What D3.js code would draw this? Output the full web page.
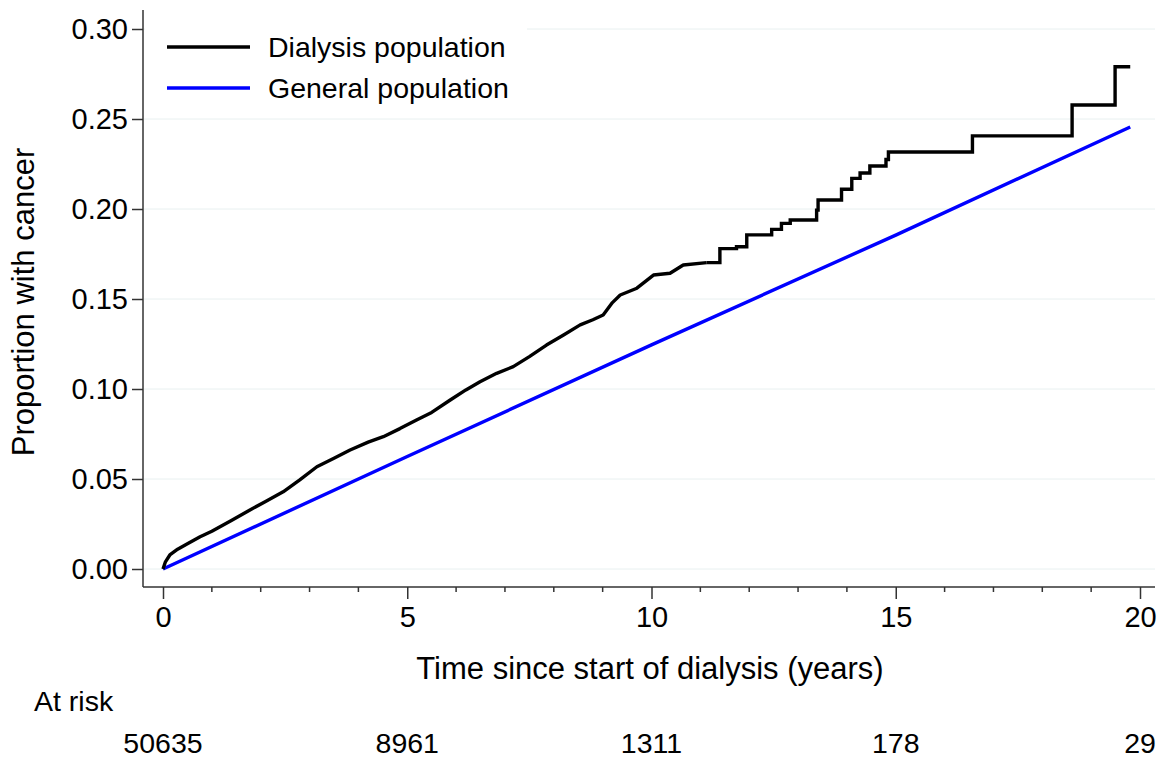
<!DOCTYPE html>
<head>
    <style>
        body { margin: 0; background: #fff; }
        text { font-family: "Liberation Sans", Arial, sans-serif; fill: #000; }
    </style>
</head>
<body>
    <script src="https://d3js.org/d3.v7.min.js"></script>
    <script>
        const width = 1162;
        const height = 772;

        // dialysis population, smooth-looking early part (years, proportion)
        const dialysisEarly = [
            [0, 0], [0.05, 0.004], [0.14, 0.0078], [0.3, 0.0110], [0.5, 0.0140], [0.76, 0.0179],
            [1.0, 0.0210], [1.4, 0.0270], [1.78, 0.0328], [2.1, 0.0375], [2.46, 0.0429], [2.8, 0.0495],
            [3.15, 0.0568], [3.5, 0.0615], [3.83, 0.0661], [4.2, 0.0705], [4.51, 0.0735], [4.85, 0.0780],
            [5.19, 0.0828], [5.5, 0.0870], [5.88, 0.0939], [6.2, 0.0995], [6.49, 0.1040], [6.83, 0.1087],
            [7.17, 0.1124], [7.5, 0.1180], [7.85, 0.1244], [8.2, 0.1300], [8.54, 0.1356], [8.8, 0.1385],
            [9.01, 0.1411], [9.2, 0.1480], [9.36, 0.1522], [9.7, 0.1560], [10.04, 0.1633], [10.38, 0.1643],
            [10.65, 0.1689], [11.13, 0.1702]
        ];
        // later part, drawn as steps
        const dialysisSteps = [
            [11.13, 0.1702], [11.40, 0.1780], [11.74, 0.1790], [11.95, 0.1856], [12.46, 0.1887],
            [12.66, 0.1920], [12.84, 0.1939], [13.38, 0.1994], [13.41, 0.2050], [13.89, 0.2110],
            [14.10, 0.2170], [14.27, 0.2200], [14.47, 0.2239], [14.80, 0.2275], [14.85, 0.2317],
            [16.57, 0.2406], [18.61, 0.2578], [19.49, 0.2790], [19.80, 0.2790]
        ];
        const general = [[0, 0], [5, 0.0625], [10, 0.1245], [15, 0.1855], [19.8, 0.2456]];

        const yTicks = [0, 0.05, 0.10, 0.15, 0.20, 0.25, 0.30];
        const xTicks = [0, 5, 10, 15, 20];
        const xMinor = d3.range(0, 21, 1);
        const atRisk = [50635, 8961, 1311, 178, 29];
        const legendLabels = ["Dialysis population", "General population"];
        const colors = ["#000000", "#0000ff"];

        const svg = d3.select("body").append("svg").attr("width", width).attr("height", height);

        const x = d3.scaleLinear().domain([0, 20]).range([163, 1140]);
        const y = d3.scaleLinear().domain([0, 0.30]).range([569, 29]);

        const axisX = 143, axisY = 587, plotRight = 1155, plotTop = 10;

        // gridlines
        svg.append("g").selectAll("line").data(yTicks).enter().append("line")
            .attr("x1", axisX + 1).attr("x2", plotRight)
            .attr("y1", d => y(d)).attr("y2", d => y(d))
            .attr("stroke", "#e8f0f0").attr("stroke-width", 1);

        const line = d3.line().x(d => x(d[0])).y(d => y(d[1]));
        const stepLine = d3.line().x(d => x(d[0])).y(d => y(d[1])).curve(d3.curveStepAfter);

        svg.append("path").datum(general).attr("d", line)
            .attr("fill", "none").attr("stroke", colors[1]).attr("stroke-width", 3.4);
        svg.append("path").datum(dialysisEarly).attr("d", line)
            .attr("fill", "none").attr("stroke", colors[0]).attr("stroke-width", 3.4).attr("stroke-linejoin", "round");
        svg.append("path").datum(dialysisSteps).attr("d", stepLine)
            .attr("fill", "none").attr("stroke", colors[0]).attr("stroke-width", 3.4);

        // y axis
        const ya = svg.append("g").attr("transform", `translate(${axisX},0)`)
            .call(d3.axisLeft(y).tickValues(yTicks).tickFormat(d3.format(".2f")).tickSize(11).tickPadding(4));
        ya.select(".domain").remove();
        ya.append("line").attr("x1", 0).attr("x2", 0).attr("y1", plotTop).attr("y2", axisY);
        ya.selectAll("line").attr("stroke", "#333").attr("stroke-width", 1.5);
        ya.selectAll("text").attr("font-size", 29).attr("fill", "#000").attr("font-family", "Liberation Sans, Arial, sans-serif");

        // x axis
        const xa = svg.append("g").attr("transform", `translate(0,${axisY})`)
            .call(d3.axisBottom(x).tickValues(xTicks).tickFormat(d3.format("d")).tickSize(12).tickPadding(7));
        xa.select(".domain").remove();
        xa.append("line").attr("x1", axisX).attr("x2", plotRight).attr("y1", 0).attr("y2", 0);
        xa.selectAll("line").attr("stroke", "#333").attr("stroke-width", 1.5);
        xa.selectAll("text").attr("font-size", 29).attr("fill", "#000").attr("font-family", "Liberation Sans, Arial, sans-serif");
        xa.append("g").selectAll("line").data(xMinor.filter(d => d % 5 != 0)).enter().append("line")
            .attr("x1", d => x(d)).attr("x2", d => x(d)).attr("y1", 0).attr("y2", 5)
            .attr("stroke", "#333").attr("stroke-width", 1.5);

        // axis titles
        svg.append("text").attr("x", 650).attr("y", 679).attr("text-anchor", "middle")
            .attr("font-size", 31).text("Time since start of dialysis (years)");
        svg.append("text").attr("transform", "translate(34,302) rotate(-90)").attr("text-anchor", "middle")
            .attr("font-size", 31).text("Proportion with cancer");

        // legend
        svg.append("rect").attr("x", axisX + 2).attr("y", 14).attr("width", 382).attr("height", 94).attr("fill", "#fff");
        const lg = svg.append("g").selectAll("g").data(legendLabels).enter().append("g")
            .attr("transform", (d, i) => `translate(0,${47 + i * 41})`);
        lg.append("line").attr("x1", 167).attr("x2", 250).attr("y1", 0).attr("y2", 0)
            .attr("stroke", (d, i) => colors[i]).attr("stroke-width", 3.4);
        lg.append("text").attr("x", 268).attr("y", 10).attr("font-size", 28.5).text(d => d);

        // number at risk
        svg.append("text").attr("x", 34).attr("y", 711).attr("font-size", 28.5).text("At risk");
        svg.append("g").selectAll("text").data(atRisk).enter().append("text")
            .attr("x", (d, i) => x(xTicks[i])).attr("y", 753).attr("text-anchor", "middle")
            .attr("font-size", 28.5).text(d => d);
    </script>
</body>
</html>
